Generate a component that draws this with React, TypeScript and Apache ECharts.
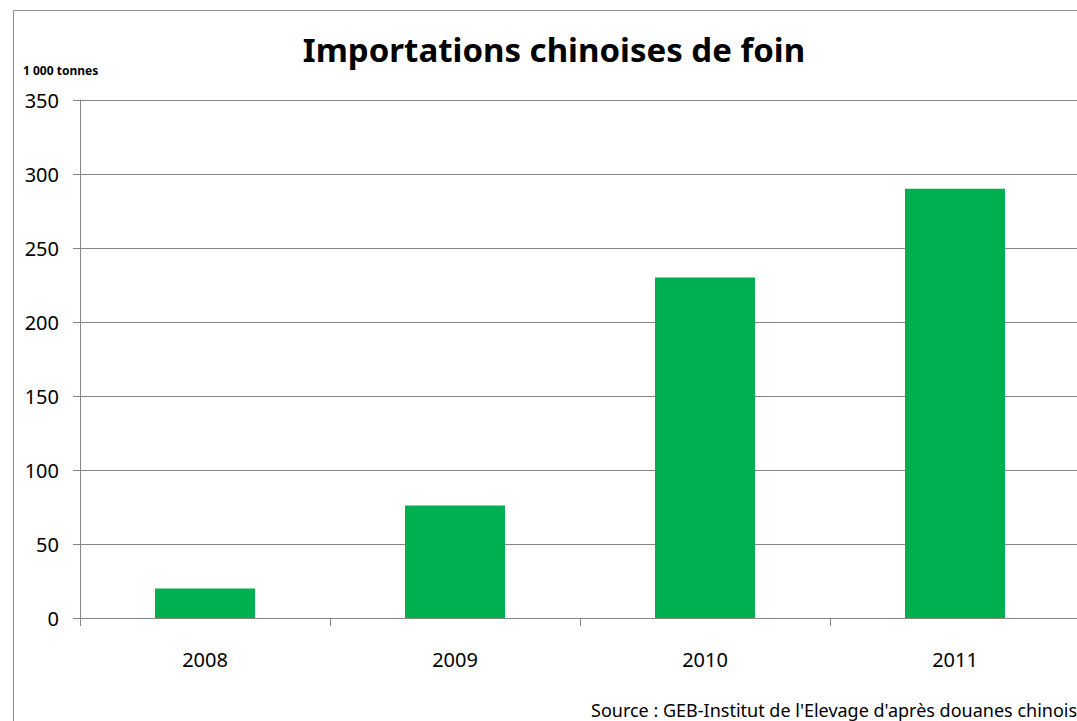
import React, { useEffect, useRef } from "react";
import * as echarts from "echarts";

const categories = ["2008", "2009", "2010", "2011"];
const imports = [20, 76, 230, 290];
const yTicks = [0, 50, 100, 150, 200, 250, 300, 350];

const titleText = "Importations chinoises de foin";
const unitText = "1 000 tonnes";
const sourceText = "Source : GEB-Institut de l'Elevage d'après douanes chinoises";

const CHART_W = 1100;
const CHART_H = 721;

export default function App() {
  const ref = useRef<HTMLDivElement>(null);
  useEffect(() => {
    if (!ref.current) return;
    const chart = echarts.init(ref.current, null, { renderer: "svg" });
    const font = "'Noto Sans', sans-serif";
    const gray = "#868686";
    chart.setOption({
      animation: false,
      backgroundColor: "#ffffff",
      textStyle: { fontFamily: font },
      title: {
        text: titleText,
        left: 549,
        top: 28,
        textAlign: "center",
        textStyle: { fontSize: 33, fontWeight: "bold", color: "#000", fontFamily: font },
      },
      graphic: [
        {
          type: "rect",
          shape: { x: 13.5, y: 10.5, width: 1080, height: 760 },
          style: { fill: "none", stroke: "#8c8c8c", lineWidth: 1 },
          silent: true,
        },
        {
          type: "text",
          x: 23,
          y: 70,
          style: {
            text: unitText,
            fontSize: 12,
            fontWeight: "bold",
            fill: "#000",
            fontFamily: font,
            textVerticalAlign: "middle",
          },
        },
        {
          type: "text",
          x: 591,
          y: 710,
          style: {
            text: sourceText,
            fontSize: 18,
            fill: "#000",
            fontFamily: font,
            textVerticalAlign: "middle",
          },
        },
      ],
      grid: { left: 80, top: 100, right: CHART_W - 1080, bottom: 103, containLabel: false },
      xAxis: {
        type: "category",
        data: categories,
        boundaryGap: true,
        axisLine: { show: true, lineStyle: { color: gray, width: 1 } },
        axisTick: { show: true, length: 8, interval: 0, lineStyle: { color: gray } },
        axisLabel: { fontSize: 20, color: "#000", margin: 31, fontFamily: font },
        splitLine: { show: false },
      },
      yAxis: {
        type: "value",
        min: yTicks[0],
        max: yTicks[yTicks.length - 1],
        interval: 50,
        axisLine: { show: true, lineStyle: { color: gray, width: 1 } },
        axisTick: { show: true, length: 7, lineStyle: { color: gray } },
        axisLabel: { fontSize: 20, color: "#000", margin: 21, fontFamily: font },
        splitLine: { show: true, lineStyle: { color: gray, width: 1 } },
      },
      series: [
        {
          type: "bar",
          data: imports,
          barWidth: 100,
          itemStyle: { color: "#00B050" },
        },
      ],
    });
    return () => chart.dispose();
  }, []);
  return (
    <div
      style={{
        position: "fixed",
        left: 0,
        top: 0,
        width: "100vw",
        height: "100vh",
        overflow: "hidden",
        background: "#fff",
      }}
    >
      <div ref={ref} style={{ width: CHART_W, height: CHART_H }} />
    </div>
  );
}
